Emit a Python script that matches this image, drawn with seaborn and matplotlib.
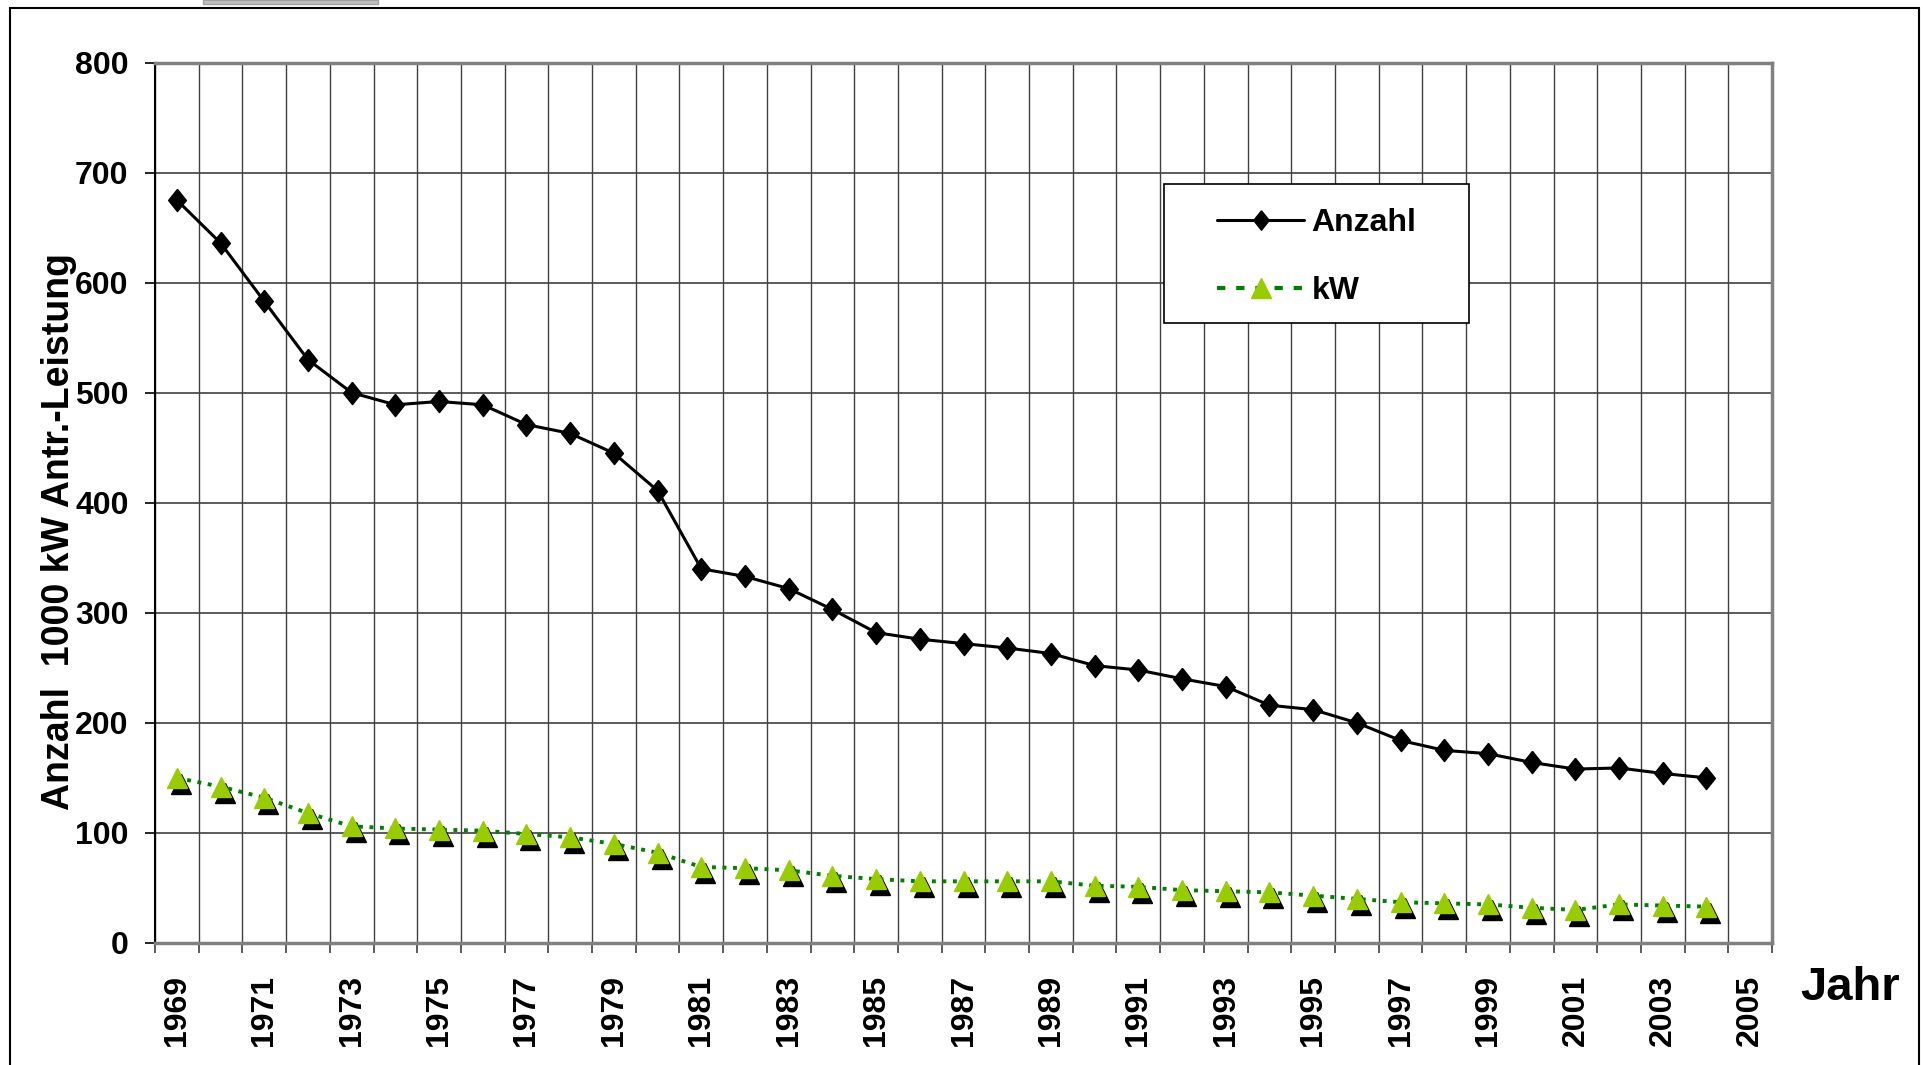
import numpy as np
import pandas as pd
import matplotlib
matplotlib.use("Agg")
import matplotlib.pyplot as plt
import matplotlib.transforms as mtransforms
from matplotlib.lines import Line2D
from matplotlib.patches import Rectangle
import seaborn as sns

# --- data ---
YEARS = list(range(1969, 2005))
ANZAHL = [675, 636, 583, 530, 500, 489, 492, 489, 471, 463, 445, 411,
          340, 333, 322, 303, 282, 276, 272, 268, 263, 252, 248, 240,
          233, 216, 212, 200, 184, 175, 172, 164, 158, 159, 154, 150]
KW = [150, 142, 132, 118, 106, 104, 103, 102, 99, 96, 90, 82,
      69, 68, 66, 61, 58, 56, 56, 56, 56, 52, 51, 48,
      47, 46, 43, 40, 37, 36, 35, 32, 30, 35, 34, 33]
TICK_YEARS = list(range(1969, 2006, 2))
Y_TICKS = list(range(0, 801, 100))

Y_LABEL = "Anzahl  1000 kW Antr.-Leistung"
X_LABEL = "Jahr"
SERIES = ["Anzahl", "kW"]

GREEN_LINE = "#008000"
GREEN_MARK = "#99CC00"
GRID = "#404040"
BORDER = "#808080"

sns.set_theme(style="white")
plt.rcParams["font.family"] = ["Liberation Sans", "DejaVu Sans"]
plt.rcParams["font.weight"] = "bold"
plt.rcParams["text.color"] = "black"
plt.rcParams["axes.labelcolor"] = "black"
plt.rcParams["xtick.color"] = "black"
plt.rcParams["ytick.color"] = "black"

df = pd.DataFrame({"Jahr": YEARS, "Anzahl": ANZAHL, "kW": KW})

fig = plt.figure(figsize=(19.23, 10.65), dpi=100)
ax = fig.add_axes([0.0806, 0.1146, 0.8409, 0.8267])

# tall diamond like the excel marker
diamond = [(0, 1), (0.8, 0), (0, -1), (-0.8, 0), (0, 1)]

sns.lineplot(data=df, x="Jahr", y="Anzahl", ax=ax, color="black", lw=2.2,
             marker=diamond, markersize=16, mec="black", mew=1,
             errorbar=None, zorder=5)

# black shadow under the green triangles
shadow = mtransforms.offset_copy(ax.transData, fig=fig, x=4, y=-6, units="dots")
sns.lineplot(data=df, x="Jahr", y="kW", ax=ax, color="black", linestyle="none",
             marker="^", markersize=15, mec="black", mew=1,
             errorbar=None, transform=shadow, zorder=3)

sns.lineplot(data=df, x="Jahr", y="kW", ax=ax, color=GREEN_LINE, lw=2.8,
             linestyle=(0, (1, 1.7)), marker="^", markersize=15,
             mfc=GREEN_MARK, mec=GREEN_MARK, mew=1, errorbar=None, zorder=4)

# --- axes ---
ax.set_xlim(1968.5, 2005.5)
ax.set_ylim(0, 800)
ax.set_xticks(TICK_YEARS)
ax.set_xticklabels([str(y) for y in TICK_YEARS], rotation=90, fontsize=23,
                   fontweight="bold")
ax.set_xticks(np.arange(1968.5, 2006, 1), minor=True)
ax.set_yticks(Y_TICKS)
ax.set_yticklabels([str(v) for v in Y_TICKS], fontsize=23, fontweight="bold")
ax.tick_params(axis="x", which="major", length=0, pad=23)
ax.tick_params(axis="x", which="minor", length=7, width=1.2, color=GRID,
               direction="out", bottom=True)
ax.tick_params(axis="y", which="major", length=7, width=1.2, color="black",
               direction="out", left=True, pad=12)
ax.set_xlabel("")
ax.set_ylabel(Y_LABEL, fontsize=27, fontweight="bold")
ax.yaxis.set_label_coords(-0.048, 0.467)

ax.grid(False)
ax.grid(which="minor", axis="x", color=GRID, lw=1)
ax.grid(which="major", axis="y", color=GRID, lw=1.2)

for side in ["top", "right", "bottom"]:
    ax.spines[side].set_color(BORDER)
    ax.spines[side].set_linewidth(2.5)
ax.spines["left"].set_color("black")
ax.spines["left"].set_linewidth(1.5)
for s in ax.spines.values():
    s.set_visible(True)

# legend: frame drawn by hand so the entries can sit inset like in excel
ax.add_patch(Rectangle((0.624, 0.7045), 0.1886, 0.158, transform=ax.transAxes,
                       facecolor="white", edgecolor="black", lw=1.2,
                       zorder=6, clip_on=False))
handles = [
    Line2D([], [], color="black", lw=2.2, marker=diamond, markersize=14,
           mfc="black", mec="black"),
    Line2D([], [], color=GREEN_LINE, lw=3, linestyle=(0, (2, 2.6)),
           marker="^", markersize=14, mfc=GREEN_MARK, mec=GREEN_MARK),
]
leg = ax.legend(handles, SERIES, loc="upper left",
                bbox_to_anchor=(0.657, 0.835), handlelength=2.7,
                labelspacing=1.2, borderpad=0, handletextpad=0.25,
                borderaxespad=0, frameon=False,
                prop={"weight": "bold", "size": 23})
leg.set_zorder(7)

fig.text(0.962, 0.072, X_LABEL, fontsize=34, fontweight="bold",
         ha="center", va="center")

# outer chart frame and the cut-off box at the top
fig.patches.append(Rectangle((10 / 1923, -0.05), 1909 / 1923, 1.05 - 8 / 1065,
                             transform=fig.transFigure, fill=False,
                             edgecolor="black", lw=1.5))
fig.patches.append(Rectangle((203 / 1923, 1 - 4 / 1065), 175 / 1923, 4 / 1065,
                             transform=fig.transFigure, facecolor="#c0c0c0",
                             edgecolor="#a0a0a0", lw=1))

fig.savefig("out.png", dpi=100, facecolor="white")
